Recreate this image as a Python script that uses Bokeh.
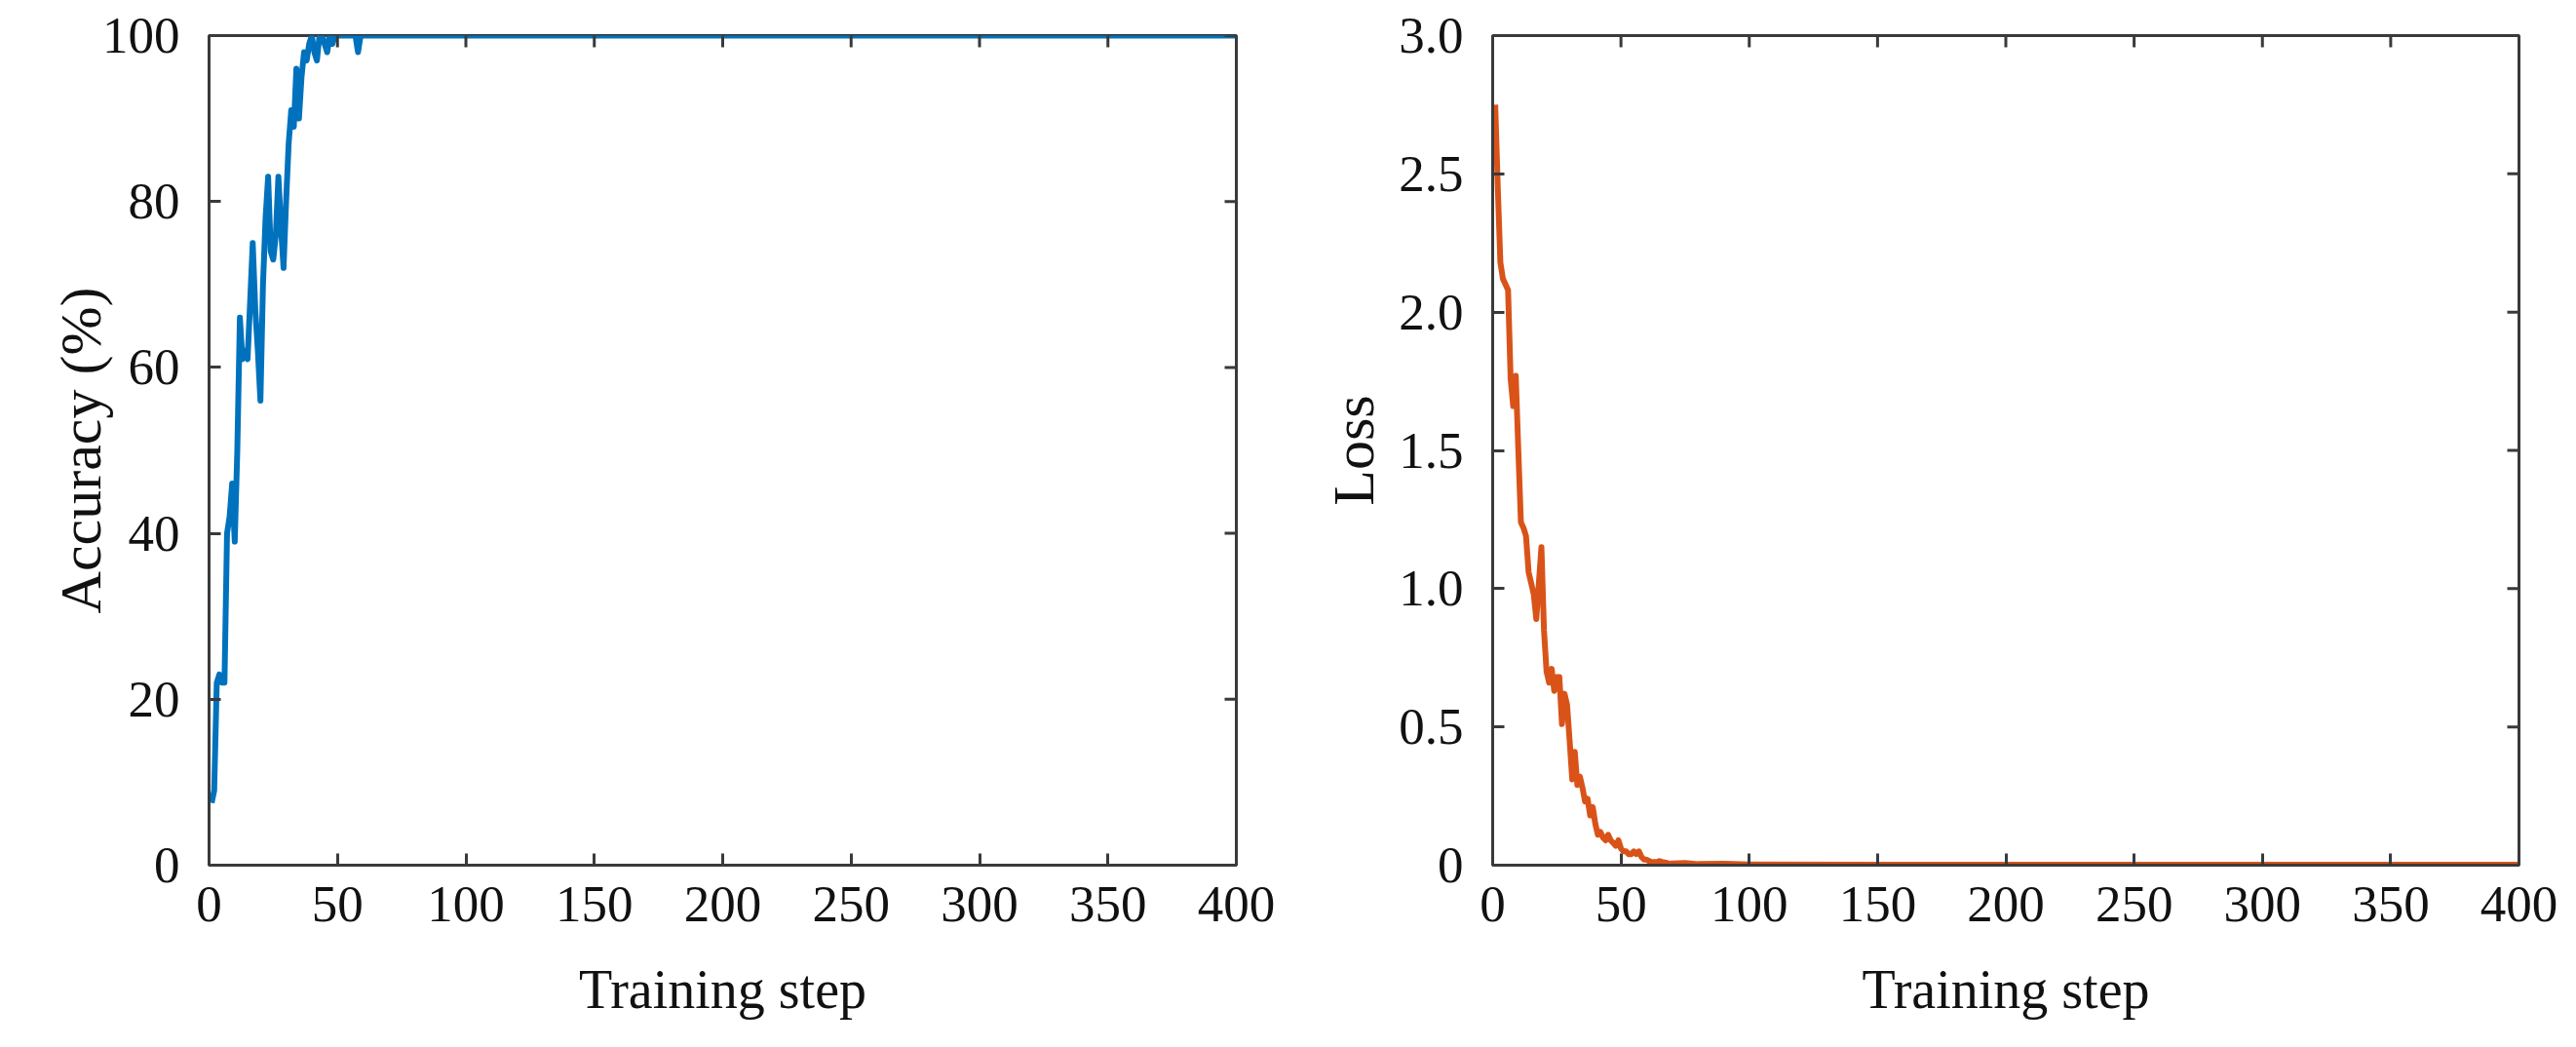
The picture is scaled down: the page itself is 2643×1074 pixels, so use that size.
import math
from bokeh.plotting import figure
from bokeh.layouts import row
from bokeh.models import Range1d, FixedTicker
from bokeh.embed import file_html
from bokeh.resources import INLINE

# ---------------- data ----------------
acc_steps = list(range(1, 61)) + [400]
acc_values = [7.5, 9, 22, 23, 22, 22, 40, 42, 46,
              39, 50, 66, 61, 62, 61, 68, 75, 67, 62,
              56, 70, 78, 83, 74, 73, 76, 83, 77, 72,
              80, 87, 91, 89, 96, 90, 95, 98, 97, 99,
              100, 98, 97, 100, 100, 99, 98, 100, 99, 100,
              100, 100, 100, 100, 100, 100, 100, 100, 98, 100, 100,
              100]

loss_steps = list(range(1, 71)) + [75, 80, 90, 100, 150, 400]
loss_values = [2.75, 2.45, 2.18, 2.12, 2.10, 2.08, 1.76, 1.66, 1.77,
               1.50, 1.24, 1.22, 1.19, 1.06, 1.02, 0.98, 0.89, 1.02, 1.15,
               0.85, 0.70, 0.66, 0.71, 0.63, 0.68, 0.68, 0.51, 0.62, 0.58,
               0.45, 0.31, 0.41, 0.29, 0.32, 0.28, 0.23, 0.24, 0.18, 0.21,
               0.15, 0.11, 0.12, 0.10, 0.09, 0.11, 0.09, 0.08, 0.07, 0.09,
               0.06, 0.05, 0.05, 0.04, 0.04, 0.05, 0.04, 0.05, 0.03, 0.02,
               0.02, 0.015, 0.01, 0.012, 0.01, 0.015, 0.012, 0.01, 0.008, 0.005,
               0.006, 0.008, 0.004, 0.005, 0.003, 0.002, 0.002]

x_ticks = [0, 50, 100, 150, 200, 250, 300, 350, 400]
acc_ticks = [0, 20, 40, 60, 80, 100]
loss_ticks = [0, 0.5, 1.0, 1.5, 2.0, 2.5, 3.0]
loss_tick_labels = ["0", "0.5", "1.0", "1.5", "2.0", "2.5", "3.0"]

x_label = "Training step"
acc_label = "Accuracy (%)"
loss_label = "Loss"

BLUE = "#0072BD"
ORANGE = "#D95319"
AX = "#3a3a3a"
FONT = "Liberation Serif"
TICK_FS = "53px"
XLABEL_FS = "56px"
YLABEL_FS = "60px"


def style_axis(ax, ticks, overrides=None):
    ax.ticker = FixedTicker(ticks=ticks)
    ax.axis_line_color = AX
    ax.axis_line_width = 3
    ax.major_tick_line_color = AX
    ax.major_tick_line_width = 3
    ax.major_tick_in = 12
    ax.major_tick_out = 0
    ax.minor_tick_line_color = None
    ax.major_label_text_font = FONT
    ax.major_label_text_font_size = TICK_FS
    ax.major_label_text_color = "#111111"
    ax.axis_label_text_font = FONT
    ax.axis_label_text_font_style = "normal"
    ax.axis_label_text_color = "#111111"
    if overrides:
        ax.major_label_overrides = overrides


def make_fig(xs, ys, color, yticks, yend, ylabel, border_left, border_right,
             overrides=None, ylabel_standoff=10):
    xend = x_ticks[-1]
    p = figure(width=1312, height=1050, output_backend="svg",
               toolbar_location=None,
               x_range=Range1d(0, xend), y_range=Range1d(0, yend),
               min_border_left=border_left, min_border_right=border_right,
               min_border_top=36, min_border_bottom=163)
    p.grid.grid_line_color = None
    p.outline_line_color = AX
    p.outline_line_width = 3
    p.background_fill_color = "white"
    p.border_fill_color = "white"

    p.line(xs, ys, line_color=color, line_width=6, line_join="round")

    # inward ticks on the top and right edges of the box (MATLAB style)
    p.scatter(x_ticks, [yend] * len(x_ticks), marker="dash", size=24,
              angle=math.pi / 2, line_color=AX, line_width=3)
    p.scatter([xend] * len(yticks), yticks, marker="dash", size=24,
              line_color=AX, line_width=3)

    style_axis(p.xaxis[0], x_ticks)
    p.xaxis[0].axis_label = x_label
    p.xaxis[0].axis_label_text_font_size = XLABEL_FS
    p.xaxis[0].major_label_standoff = 22
    p.xaxis[0].axis_label_standoff = 36

    style_axis(p.yaxis[0], yticks, overrides)
    p.yaxis[0].axis_label = ylabel
    p.yaxis[0].axis_label_text_font_size = YLABEL_FS
    p.yaxis[0].major_label_standoff = 30
    p.yaxis[0].axis_label_standoff = ylabel_standoff
    return p


p1 = make_fig(acc_steps, acc_values, BLUE, acc_ticks, 100, acc_label, 214, 44,
              ylabel_standoff=-14)
p2 = make_fig(loss_steps, loss_values, ORANGE, loss_ticks, 3.0, loss_label, 219, 40,
              overrides={t: s for t, s in zip(loss_ticks, loss_tick_labels)},
              ylabel_standoff=10)

layout = row(p1, p2)
open("out.html", "w").write(file_html(layout, INLINE))
